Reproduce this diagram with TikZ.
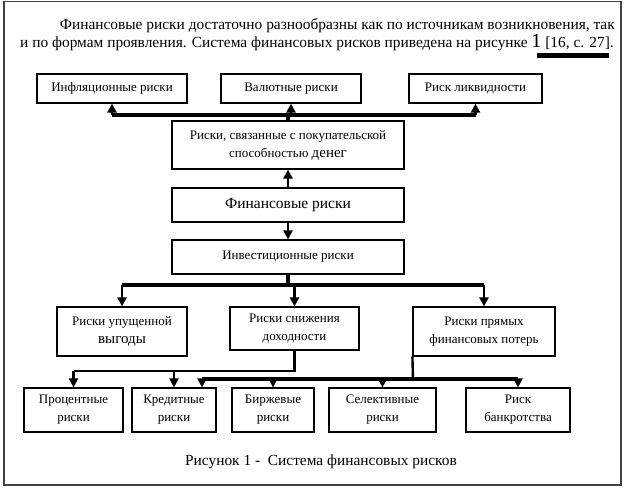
\documentclass[tikz,border=0pt]{standalone}
\usepackage{fontspec}
\setmainfont{Liberation Serif}
\usetikzlibrary{arrows.meta}
\usetikzlibrary{calc}

\begin{document}
\begin{tikzpicture}[x=1pt,y=-1pt,
        riskbox/.style={draw,line width=1.2pt,inner sep=1pt,align=center,font=\fontsize{13}{18}\selectfont},
        bus/.style={line width=3.4pt},
        link/.style={line width=2.4pt},
        tip/.style={-{Triangle[length=9pt,width=9pt]}}]
        \useasboundingbox (0,0) rectangle (628,493);
        \draw[line width=1.6pt,black!75] (4,1.5) rectangle (621,485);
        \node[anchor=base east,font=\fontsize{15.4}{18}\selectfont,inner sep=0pt] (line1) at (615,29) {Финансовые риски достаточно разнообразны как по источникам возникновения, так};
        \node[anchor=base west,font=\fontsize{15.4}{18}\selectfont,inner sep=0pt] (line2) at (20,47) {и по формам проявления. Система финансовых рисков приведена на рисунке {\fontsize{20}{20}\selectfont 1} [16, с. 27].};
        \fill (537,53) rectangle (609,58);
        \node[riskbox,minimum width=150pt,minimum height=29pt] (infl) at (112,88.5) {Инфляционные риски};
        \node[riskbox,minimum width=140pt,minimum height=29pt] (val) at (291,88.5) {Валютные риски};
        \node[riskbox,minimum width=133pt,minimum height=29pt] (liq) at (475.5,88.5) {Риск ликвидности};
        \node[riskbox,minimum width=232pt,minimum height=48pt] (svyaz) at (288,145) {Риски, связанные с покупательской\\способностью {\fontsize{15}{18}\selectfont денег}};
        \node[riskbox,minimum width=232pt,minimum height=34pt,font=\fontsize{15.5}{18}\selectfont] (fin) at (288,205) {Финансовые риски};
        \node[riskbox,minimum width=232pt,minimum height=34pt] (inv) at (288,257) {Инвестиционные риски};
        \node[riskbox,minimum width=130pt,minimum height=49pt] (upush) at (122,331.5) {Риски упущенной\\{\fontsize{15}{18}\selectfont выгоды}};
        \node[riskbox,minimum width=129pt,minimum height=43pt] (snizh) at (294.5,328.5) {Риски снижения\\доходности};
        \node[riskbox,minimum width=142pt,minimum height=49pt] (pryam) at (484,331.5) {Риски прямых\\финансовых потерь};
        \node[riskbox,minimum width=99pt,minimum height=44pt] (prots) at (73.5,410) {Процентные\\риски};
        \node[riskbox,minimum width=84pt,minimum height=44pt] (kred) at (174,410) {Кредитные\\риски};
        \node[riskbox,minimum width=82pt,minimum height=44pt] (birzh) at (273,410) {Биржевые\\риски};
        \node[riskbox,minimum width=107pt,minimum height=44pt] (selekt) at (382.5,410) {Селективные\\риски};
        \node[riskbox,minimum width=104pt,minimum height=44pt] (bankr) at (518,410) {Риск\\банкротства};
        \node[font=\fontsize{15.4}{18}\selectfont] (caption) at (321,462) {Рисунок 1 -\ \ Система финансовых рисков};

        \coordinate (b1) at (288,115);
        \draw[bus] (svyaz.north) -- (b1);
        \draw[bus] (infl.south |- b1) -- (liq.south |- b1);
        \draw[link,tip] (infl.south |- b1) -- (infl.south);
        \draw[link,tip] (val.south |- b1) -- (val.south);
        \draw[link,tip] (liq.south |- b1) -- (liq.south);
        \draw[link,tip] (fin.north) -- (svyaz.south);
        \draw[link,tip] (fin.south) -- (inv.north);

        \coordinate (b2) at (288,285);
        \draw[bus] (inv.south) -- (b2);
        \draw[bus] (upush.north |- b2) -- (pryam.north |- b2);
        \draw[link,tip] (upush.north |- b2) -- (upush.north);
        \draw[link,tip] (snizh.north |- b2) -- (snizh.north);
        \draw[link,tip] (pryam.north |- b2) -- (pryam.north);

        \coordinate (b3) at (295,371);
        \draw[link] (snizh.south) -- (snizh.south |- b3) -- (prots.north |- b3);
        \draw[link,tip] (prots.north |- b3) -- (prots.north);
        \draw[link,tip] (kred.north |- b3) -- (kred.north);

        \coordinate (b4) at (413,379);
        \coordinate (k2) at (202,379);
        \draw[link] (pryam.south west) -- (b4);
        \draw[bus] (k2) -- (bankr.north |- b4);
        \draw[link,tip] (k2) -- (k2 |- kred.north);
        \draw[link,tip] (birzh.north |- b4) -- (birzh.north);
        \draw[link,tip] (selekt.north |- b4) -- (selekt.north);
        \draw[link,tip] (bankr.north |- b4) -- (bankr.north);
    \end{tikzpicture}
\end{document}
